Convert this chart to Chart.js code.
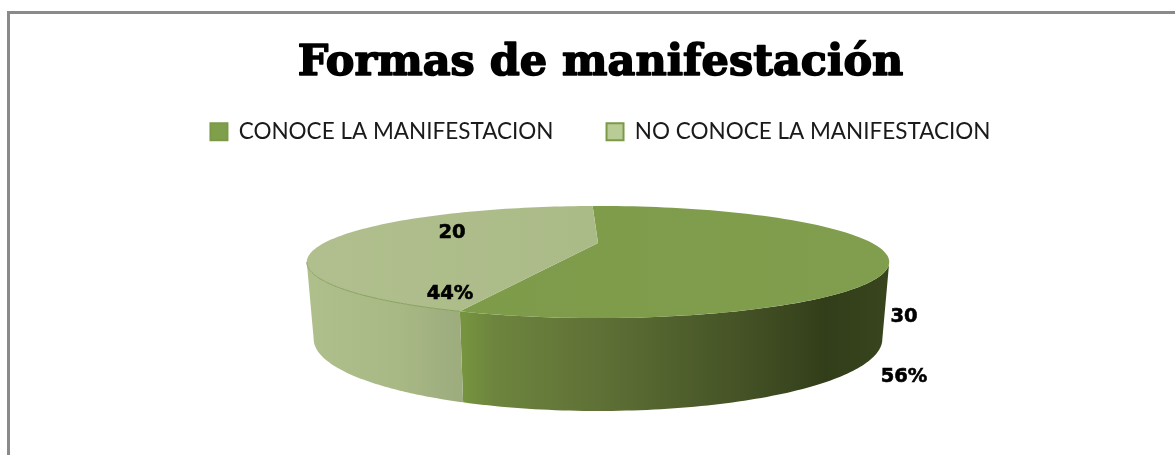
<!DOCTYPE html>
<html>
<head>
<meta charset="utf-8">
<style>html,body{margin:0;padding:0;background:#fff}canvas{display:block}</style>
<script src="https://cdn.jsdelivr.net/npm/chart.js@4/dist/chart.umd.min.js"></script>
</head>
<body>
<canvas id="c" width="1175" height="455"></canvas>
<script>
const titleText = 'Formas de manifestación';
const categories = ['CONOCE LA MANIFESTACION', 'NO CONOCE LA MANIFESTACION'];
const percentValues = [56, 44];
const countValues = [30, 20];

const K = 0.339, APEX_X = 598;
const topRim = {A: 274, B: 49.6, cy: 243};
const baseRim = {A: 267.5, B: 63.7, cy: 314.6};
const project = (a, r) => {
  const w = 1 - K * Math.sin(a);
  return [APEX_X + r.A * Math.cos(a) / w, r.cy + r.B * Math.sin(a) / w];
};
const sliceStyles = [
  {face: [[0, '#7c9a48'], [1, '#809e4d']], faceSpan: [308, 891],
   wall: [[0, '#76933f'], [0.07, '#6d843e'], [0.32, '#5f7136'], [0.73, '#3f4c22'], [0.86, '#323e19'], [1, '#38441d']], wallSpan: [465, 883]},
  {face: [[0, '#b0bf8d'], [1, '#abbb88']], faceSpan: [308, 598],
   wall: [[0, '#afbf8c'], [0.55, '#a9b985'], [0.85, '#a0af7f'], [1, '#9dac7e']], wallSpan: [314, 465]}
];
const labelOffsets = [
  {count: [306, 74], pct: [306, 134]},
  {count: [-146, -10], pct: [-148, 51]}
];
const gradient = (ctx, span, stops) => {
  const g = ctx.createLinearGradient(span[0], 0, span[1], 0);
  stops.forEach(s => g.addColorStop(s[0], s[1]));
  return g;
};
const sample = (from, to, r) => {
  const pts = [], n = 90;
  for (let i = 0; i <= n; i++) pts.push(project(from + (to - from) * i / n, r));
  return pts;
};
const trace = (ctx, pts) => {
  ctx.beginPath();
  pts.forEach((p, i) => i ? ctx.lineTo(p[0], p[1]) : ctx.moveTo(p[0], p[1]));
  ctx.closePath();
};

const pie3d = {
  id: 'pie3d',
  beforeDraw(chart) {
    const {ctx, width, height} = chart;
    ctx.save();
    ctx.fillStyle = '#8a8a8a';
    ctx.fillRect(7, 11, width - 7, 3);
    ctx.fillRect(7, 11, 3, height - 11);
    ctx.restore();
  },
  beforeDatasetDraw(chart) {
    const ctx = chart.ctx, arcs = chart.getDatasetMeta(0).data;
    const visFrom = Math.asin(K), visTo = Math.PI - visFrom;
    ctx.save();
    arcs.forEach((arc, i) => {
      const s = arc.startAngle, e = arc.endAngle;
      [[s, e], [s - 2 * Math.PI, e - 2 * Math.PI]].forEach(([a, b]) => {
        const from = Math.max(a, visFrom), to = Math.min(b, visTo);
        if (to <= from) return;
        const up = sample(from, to, topRim), low = sample(from, to, baseRim).reverse();
        trace(ctx, up.concat(low));
        ctx.fillStyle = gradient(ctx, sliceStyles[i].wallSpan, sliceStyles[i].wall);
        ctx.fill();
      });
    });
    arcs.forEach((arc, i) => {
      const pts = [[APEX_X, topRim.cy]].concat(sample(arc.startAngle, arc.endAngle, topRim));
      trace(ctx, pts);
      ctx.fillStyle = gradient(ctx, sliceStyles[i].faceSpan, sliceStyles[i].face);
      ctx.fill();
    });
    const lightArc = arcs[1];
    const rim = sample(lightArc.startAngle, Math.PI - Math.asin(K), topRim);
    ctx.beginPath();
    rim.forEach((p, i) => i ? ctx.lineTo(p[0], p[1]) : ctx.moveTo(p[0], p[1]));
    ctx.strokeStyle = '#86a05c';
    ctx.lineWidth = 1;
    ctx.stroke();
    ctx.restore();
    return false;
  },
  afterDatasetsDraw(chart) {
    const ctx = chart.ctx;
    ctx.save();
    ctx.fillStyle = '#000';
    ctx.strokeStyle = '#000';
    ctx.lineWidth = 0.6;
    ctx.font = 'bold 19.5px "DejaVu Sans"';
    ctx.textAlign = 'center';
    ctx.textBaseline = 'middle';
    const put = (txt, x, y) => { ctx.fillText(txt, x, y); ctx.strokeText(txt, x, y); };
    labelOffsets.forEach((o, i) => {
      put(String(countValues[i]), APEX_X + o.count[0], topRim.cy + o.count[1]);
      put(percentValues[i] + '%', APEX_X + o.pct[0], topRim.cy + o.pct[1]);
    });
    ctx.restore();
  },
  afterDraw(chart) {
    // thicken the title so it reads as a heavy display face
    const t = chart.titleBlock, ctx = chart.ctx, f = t.options.font;
    ctx.save();
    ctx.font = `${f.weight} ${f.size}px ${f.family}`;
    ctx.textAlign = 'center';
    ctx.textBaseline = 'middle';
    ctx.strokeStyle = '#000';
    ctx.lineWidth = 1.6;
    ctx.lineJoin = 'round';
    ctx.strokeText(titleText, t.left + t.width / 2, t.top + t.options.padding.top + 51.6 / 2);
    ctx.restore();
  }
};

new Chart(document.getElementById('c'), {
  type: 'pie',
  data: {
    labels: categories,
    datasets: [{
      data: percentValues,
      backgroundColor: ['#7f9f4b', '#b9cc96'],
      borderColor: ['#7a9a48', '#7a9a48'],
      borderWidth: 2
    }]
  },
  plugins: [pie3d],
  options: {
    responsive: false,
    animation: false,
    rotation: -1.5,
    layout: {padding: {left: 26}},
    plugins: {
      tooltip: {enabled: false},
      title: {
        display: true,
        text: titleText,
        color: '#000',
        font: {family: '"DejaVu Serif"', size: 43, weight: 'bold', lineHeight: 1.2},
        padding: {top: 38, bottom: -22.2}
      },
      legend: {
        display: true,
        position: 'top',
        labels: {
          color: '#1a1a1a',
          font: {family: 'Lato', size: 22.5},
          boxWidth: 17,
          boxHeight: 17,
          padding: 53
        }
      }
    }
  }
});
</script>
</body>
</html>
